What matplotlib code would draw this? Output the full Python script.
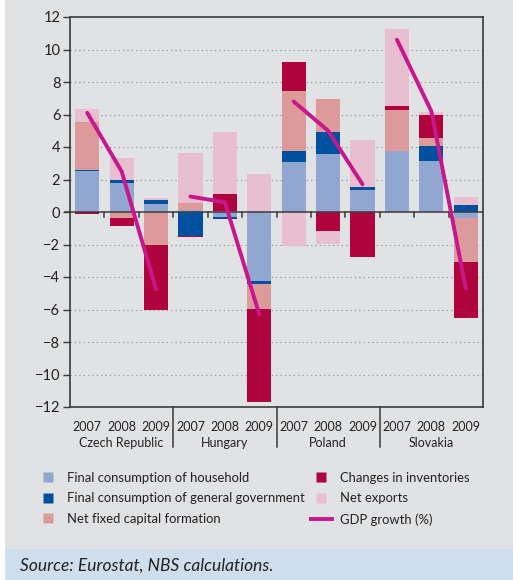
import numpy as np
import matplotlib.pyplot as plt
from matplotlib.patches import Rectangle
from matplotlib.lines import Line2D

# ---- data ----
countries = ['Czech Republic', 'Hungary', 'Poland', 'Slovakia']
years = ['2007', '2008', '2009']

household   = [2.5, 1.8, 0.5,   0.1, -0.3, -4.25,   3.1, 3.6, 1.35,   3.75, 3.15, -0.35]
government  = [0.1, 0.15, 0.25, -1.45, -0.15, -0.15, 0.65, 1.35, 0.2,  0.0, 0.9, 0.45]
fixed_cap   = [2.95, -0.35, -2.0, 0.45, 0.05, -1.55, 3.7, 2.0, 0.0,   2.5, 0.5, -2.7]
inventories = [-0.15, -0.5, -4.0, -0.1, 1.05, -5.75, 1.8, -1.15, -2.75, 0.3, 1.4, -3.45]
net_exports = [0.8, 1.4, 0.1,   3.1, 3.8, 2.35,   -2.1, -0.8, 2.9,   4.7, 0.2, 0.5]
gdp_growth  = [6.1, 2.5, -4.75, 0.95, 0.6, -6.3,  6.8, 5.0, 1.7,    10.6, 6.2, -4.7]

series = [
    ('Final consumption of household', household, '#91a6d0'),
    ('Final consumption of general government', government, '#0050a0'),
    ('Net fixed capital formation', fixed_cap, '#dc9a9a'),
    ('Changes in inventories', inventories, '#b0043f'),
    ('Net exports', net_exports, '#e8bfd0'),
]
gdp_color = '#c8168c'
bg = '#e1e2e4'
dark = '#3a3a3a'
txt = '#222222'

plt.rcParams['font.family'] = ['Lato', 'DejaVu Sans']

fig = plt.figure(figsize=(5.13, 5.80), dpi=100)
fig.patch.set_facecolor('white')
# grey panel + blue source band
fig.patches.append(Rectangle((5 / 513, 0), 1, 1, transform=fig.transFigure,
                             facecolor=bg, edgecolor='none', zorder=-10))
fig.patches.append(Rectangle((5 / 513, 0), 1, 31 / 580, transform=fig.transFigure,
                             facecolor='#cfdeed', edgecolor='none', zorder=-9))

ax = fig.add_axes([70 / 513, 1 - 407 / 580, 413 / 513, 390 / 580])
ax.set_facecolor(bg)

x = np.arange(12)
pos_base = np.zeros(12)
neg_base = np.zeros(12)
for name, vals, col in series:
    v = np.array(vals)
    pos = np.where(v > 0, v, 0)
    neg = np.where(v < 0, v, 0)
    ax.bar(x, pos, 0.7, bottom=pos_base, color=col, zorder=2)
    ax.bar(x, neg, 0.7, bottom=neg_base, color=col, zorder=2)
    pos_base += pos
    neg_base += neg

# GDP line, one piece per country
g = np.array(gdp_growth)
for i in range(4):
    ax.plot(x[3 * i:3 * i + 3], g[3 * i:3 * i + 3], color=gdp_color, lw=2.8,
            solid_capstyle='round', solid_joinstyle='round', zorder=4)

ax.set_xlim(-0.5, 11.5)
ax.set_ylim(-12, 12)
ax.set_yticks(np.arange(-12, 13, 2))
ax.tick_params(axis='y', direction='out', length=5, width=1, color=dark,
               labelsize=10.5, labelcolor=txt, pad=2)
for yv in np.arange(-10, 12, 2):
    if yv != 0:
        ax.axhline(yv, color='#999999', lw=0.9, ls=(0, (1, 2.5)), zorder=1)

# zero line with small ticks at slot boundaries
ax.axhline(0, color=dark, lw=1.1, zorder=3)
ax.plot([-0.65, -0.5], [0, 0], color=dark, lw=1.1, clip_on=False, zorder=3)
for b in np.arange(0.5, 11, 1):
    ax.plot([b, b], [0, -0.3], color=dark, lw=1.1, zorder=3)

for s in ax.spines.values():
    s.set_color(dark)
    s.set_linewidth(1.2)

# year and country labels
ax.set_xticks(x)
ax.set_xticklabels(years * 4)
ax.tick_params(axis='x', length=0, labelsize=9, pad=10, labelcolor=txt)
for i, c in enumerate(countries):
    ax.text(3 * i + 1, -0.092, c, transform=ax.get_xaxis_transform(),
            ha='center', va='center', fontsize=9, color=txt)
for b in [2.5, 5.5, 8.5]:
    ax.plot([b, b], [0, -0.103], transform=ax.get_xaxis_transform(),
            color=dark, lw=1.1, clip_on=False)

# legend, two columns placed separately
handles = [Line2D([], [], ls='none', marker='s', markersize=7.5,
                  markerfacecolor=col, markeredgecolor='none', label=name)
           for name, vals, col in series]
handles.append(Line2D([], [], color=gdp_color, lw=2.8, label='GDP growth (%)'))
leg_kw = dict(loc='upper left', frameon=False, fontsize=9.4, handlelength=1.6,
              handletextpad=0.65, labelspacing=0.65, borderpad=0,
              borderaxespad=0, labelcolor=txt)
fig.legend(handles=handles[:3], bbox_to_anchor=(38 / 513, 1 - 472 / 580), **leg_kw)
fig.legend(handles=handles[3:], bbox_to_anchor=(311 / 513, 1 - 472 / 580), **leg_kw)

fig.text(20 / 513, 1 - 566 / 580, 'Source: Eurostat, NBS calculations.',
         fontsize=12.5, style='italic', color=txt, va='center')

fig.savefig('out.png', dpi=100)
